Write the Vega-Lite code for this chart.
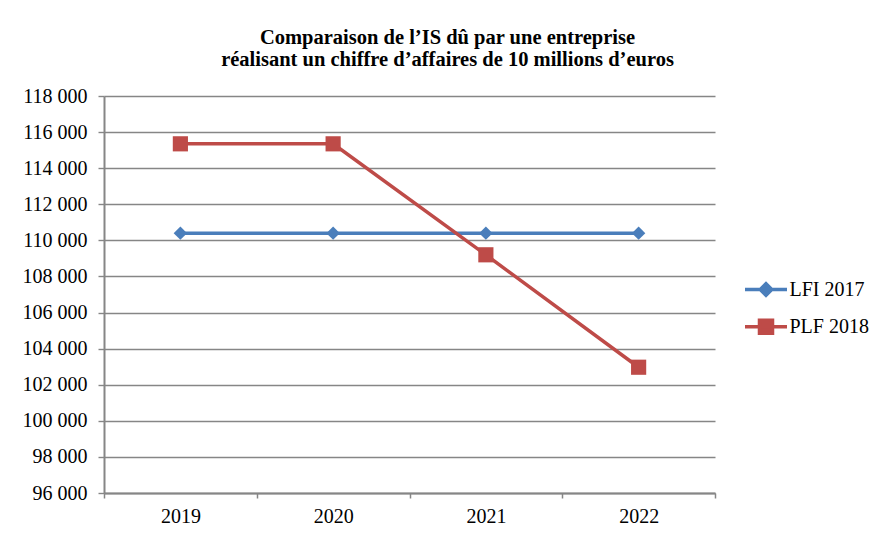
{
  "$schema": "https://vega.github.io/schema/vega-lite/v6.json",
  "width": 611,
  "height": 397,
  "autosize": {"type": "none"},
  "padding": {"left": 104, "top": 96, "right": 166, "bottom": 42},
  "background": "white",
  "title": {
    "text": ["Comparaison de l’IS dû par une entreprise", "réalisant un chiffre d’affaires de 10 millions d’euros"],
    "font": "Liberation Serif",
    "fontSize": 20.5,
    "fontWeight": "bold",
    "color": "black",
    "anchor": "middle",
    "dx": 38,
    "offset": 16,
    "lineHeight": 22
  },
  "data": {
    "values": [
      {"annee": "2019", "serie": "LFI 2017", "is": 110400},
      {"annee": "2020", "serie": "LFI 2017", "is": 110400},
      {"annee": "2021", "serie": "LFI 2017", "is": 110400},
      {"annee": "2022", "serie": "LFI 2017", "is": 110400},
      {"annee": "2019", "serie": "PLF 2018", "is": 115350},
      {"annee": "2020", "serie": "PLF 2018", "is": 115350},
      {"annee": "2021", "serie": "PLF 2018", "is": 109200},
      {"annee": "2022", "serie": "PLF 2018", "is": 102970}
    ]
  },
  "encoding": {
    "x": {
      "field": "annee",
      "type": "nominal",
      "bandPosition": 0.5,
      "scale": {"type": "band", "paddingInner": 0, "paddingOuter": 0},
      "axis": {
        "title": null,
        "labelAngle": 0,
        "grid": false,
        "tickBand": "extent",
        "tickSize": 5,
        "tickColor": "#868686",
        "tickWidth": 1.5,
        "domainColor": "#868686",
        "domainWidth": 2,
        "labelFont": "Liberation Serif",
        "labelFontSize": 20,
        "labelColor": "black",
        "labelPadding": 8
      }
    },
    "y": {
      "field": "is",
      "type": "quantitative",
      "scale": {"domain": [96000, 118000], "nice": false, "zero": false},
      "axis": {
        "title": null,
        "values": [96000, 98000, 100000, 102000, 104000, 106000, 108000, 110000, 112000, 114000, 116000, 118000],
        "labelExpr": "replace(format(datum.value, ','), ',', ' ')",
        "grid": true,
        "gridColor": "#868686",
        "gridWidth": 1.4,
        "tickSize": 6,
        "tickColor": "#868686",
        "tickWidth": 1.4,
        "domainColor": "#868686",
        "domainWidth": 2,
        "labelFont": "Liberation Serif",
        "labelFontSize": 20,
        "labelColor": "black",
        "labelPadding": 11
      }
    },
    "color": {
      "field": "serie",
      "type": "nominal",
      "scale": {"domain": ["LFI 2017", "PLF 2018"], "range": ["#4A7EBB", "#BE4B48"]},
      "legend": null
    }
  },
  "layer": [
    {
      "mark": {"type": "line", "strokeWidth": 3.5},
      "encoding": {
        "color": {
          "field": "serie",
          "type": "nominal",
          "legend": {
            "title": null,
            "orient": "none",
            "legendX": 649.5,
            "legendY": 181,
            "padding": 0,
            "symbolSize": 441,
            "symbolStrokeWidth": 3.5,
            "rowPadding": 9.3,
            "labelOffset": 11,
            "labelFont": "Liberation Serif",
            "labelFontSize": 20,
            "labelColor": "black",
            "encode": {
              "symbols": {
                "update": {
                  "shape": {"signal": "datum.value == 'LFI 2017' ? 'M-2,0H2M0,-0.55L0.55,0L0,0.55L-0.55,0Z' : 'M-2,0H2M-0.62,-0.62H0.62V0.62H-0.62Z'"},
                  "fill": {"scale": "color", "field": "value"},
                  "stroke": {"scale": "color", "field": "value"},
                  "strokeWidth": {"value": 3.5},
                  "strokeOpacity": {"value": 1},
                  "fillOpacity": {"value": 1},
                  "opacity": {"value": 1}
                }
              }
            }
          }
        }
      }
    },
    {
      "transform": [{"filter": "datum.serie == 'LFI 2017'"}],
      "mark": {"type": "point", "filled": true, "opacity": 1, "shape": "diamond", "size": 180}
    },
    {
      "transform": [{"filter": "datum.serie == 'PLF 2018'"}],
      "mark": {"type": "point", "filled": true, "opacity": 1, "shape": "square", "size": 230}
    }
  ],
  "config": {
    "view": {"stroke": null}
  }
}
